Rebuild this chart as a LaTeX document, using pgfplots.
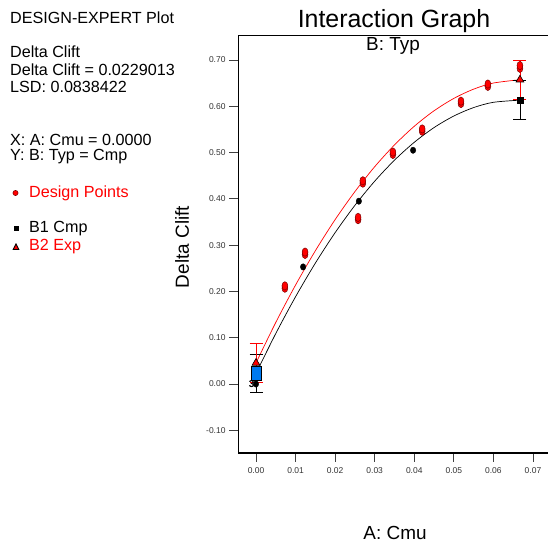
\documentclass[border=0pt]{standalone}
\usepackage{pgfplots}
\pgfplotsset{compat=1.18}
\usepackage{fontspec}
\setmainfont{Liberation Sans}
\definecolor{dxblue}{RGB}{0,122,240}
\definecolor{dxred}{RGB}{255,0,0}
\definecolor{dxdark}{RGB}{120,0,0}

\begin{document}
\begin{tikzpicture}[x=1bp,y=1bp]
\path[use as bounding box] (0,0) rectangle (548,543);

% left information panel
\begin{scope}[every node/.style={anchor=west, inner sep=0pt, font=\fontsize{16.2}{18}\selectfont}]
\node at (10,525) {DESIGN-EXPERT Plot};
\node at (10,491) {Delta Clift};
\node at (10,473.5) {Delta Clift = 0.0229013};
\node at (10,456) {LSD: 0.0838422};
\node at (10,403.5) {X: A: Cmu = 0.0000};
\node at (10,386) {Y: B: Typ = Cmp};
\node[text=dxred] at (29,350) {Design Points};
\node at (29,314) {B1 Cmp};
\node[text=dxred] at (29,296) {B2 Exp};
\end{scope}
\fill[dxred, draw=dxdark, line width=0.5pt] (15.5,350) circle (2.6);
\fill[black] (13.5,311.5) rectangle (18.5,316.5);
\filldraw[fill=dxred, draw=black, line width=0.9pt] (13.2,293.5) -- (18.8,293.5) -- (16,299) -- cycle;

% titles and labels
\node[font=\fontsize{25}{28}\selectfont] at (394,522) {Interaction Graph};
\node[font=\fontsize{19}{21}\selectfont] at (393,497) {B: Typ};
\node[font=\fontsize{19}{21}\selectfont, rotate=90] at (182,296) {Delta Clift};
\node[font=\fontsize{19}{21}\selectfont] at (395,10) {A: Cmu};

\begin{axis}[
  at={(238bp,90bp)}, anchor=south west,
  scale only axis, width=310bp, height=418bp,
  xmin=-0.00455, xmax=0.0738, ymin=-0.149, ymax=0.754,
  axis lines*=left,
  x axis line style={line width=1.6pt},
  y axis line style={line width=0.8pt},
  tick align=outside,
  major tick length=9bp,
  tick style={black!75, line width=0.8pt},
  xtick={0,0.01,0.02,0.03,0.04,0.05,0.06,0.07},
  ytick={-0.1,0,0.1,0.2,0.3,0.4,0.5,0.6,0.7},
  scaled ticks=false,
  /pgf/number format/assume math mode=true,
  xticklabel style={/pgf/number format/.cd, fixed, fixed zerofill, precision=2, /tikz/.cd,
     font=\fontsize{8.5}{9}\selectfont, text=black!80, yshift=-2bp},
  yticklabel style={/pgf/number format/.cd, fixed, fixed zerofill, precision=2, /tikz/.cd,
     font=\fontsize{8.5}{9}\selectfont, text=black!80},
  clip=false,
]
% top border line
\draw[line width=0.7pt] (rel axis cs:0,1) -- (rel axis cs:1,1);

% fitted curves
\addplot[black, line width=0.7pt, smooth, no marks] coordinates {
 (0,0.023) (0.005,0.1092) (0.01,0.1886) (0.015,0.2612) (0.02,0.327) (0.025,0.386)
 (0.03,0.4382) (0.035,0.4836) (0.04,0.5222) (0.045,0.554) (0.05,0.579)
 (0.055,0.5972) (0.06,0.6086) (0.0667,0.6132)};
\addplot[dxred, line width=0.7pt, smooth, no marks] coordinates {
 (0,0.0455) (0.005,0.1331) (0.01,0.2139) (0.015,0.2879) (0.02,0.3552) (0.025,0.4157)
 (0.03,0.4695) (0.035,0.5165) (0.04,0.5568) (0.045,0.5903) (0.05,0.617)
 (0.055,0.637) (0.06,0.6502) (0.0667,0.6573)};

% LSD bars
\addplot[black, only marks, mark=none,
  error bars/.cd, y dir=both, y explicit, error mark=-,
  error bar style={black, line width=0.8pt},
  error mark options={rotate=90, black, mark size=6.5bp, line width=0.8pt}]
  coordinates {(0,0.0229) +- (0,0.0419) (0.0667,0.6132) +- (0,0.0419)};
\addplot[dxred, only marks, mark=none,
  error bars/.cd, y dir=both, y explicit, error mark=-,
  error bar style={dxred, line width=0.8pt},
  error mark options={rotate=90, dxred, mark size=6.5bp, line width=0.8pt}]
  coordinates {(0,0.0455) +- (0,0.0419) (0.0667,0.6573) +- (0,0.0419)};

% design points
\addplot[only marks, mark=*, mark size=3.2, mark options={fill=black, draw=black, xscale=0.85}]
  coordinates {(0,0) (0.0119,0.253) (0.026,0.395) (0.0397,0.505)};
\addplot[only marks, mark=*, mark size=4.2, mark options={fill=dxred, draw=dxdark, line width=0.5pt, xscale=0.7}]
  coordinates {(0.0073,0.207) (0.0124,0.28) (0.0258,0.355) (0.027,0.434)
   (0.0346,0.496) (0.042,0.546) (0.0518,0.606) (0.0586,0.643) (0.0667,0.682)};
\addplot[only marks, mark=*, mark size=4.2, mark options={fill=dxred, draw=dxdark, line width=0.5pt, xscale=0.7}]
  coordinates {(0.0073,0.212) (0.0124,0.285) (0.0258,0.36) (0.027,0.439)
   (0.0346,0.501) (0.042,0.551) (0.0518,0.611) (0.0586,0.648) (0.0667,0.688)};

% count label
\node[font=\fontsize{10}{10}\selectfont\bfseries, anchor=east, inner sep=0pt] at (axis cs:0,0) [xshift=-1.5bp] {3};

% predicted means
\addplot[only marks, mark=triangle*, mark size=4.5, mark options={fill=dxred, draw=black, line width=0.6pt}]
  coordinates {(0,0.0455) (0.0667,0.6573)};
\addplot[only marks, mark=square*, mark size=3, mark options={fill=black, draw=black}]
  coordinates {(0.0667,0.6132)};
\addplot[only marks, mark=square*, mark size=7, mark options={fill=dxblue, draw=black, line width=0.8pt, xscale=0.72}]
  coordinates {(0,0.0229)};
\end{axis}
\end{tikzpicture}
\end{document}
